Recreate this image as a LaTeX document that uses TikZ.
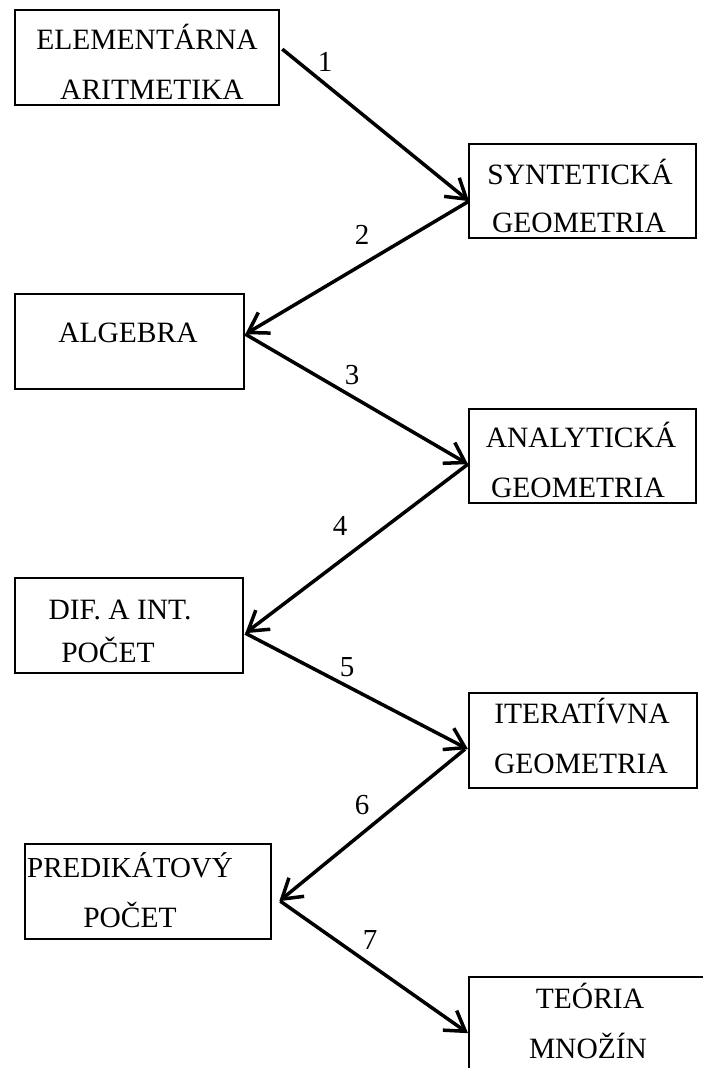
\documentclass[tikz,border=0pt]{standalone}
\usepackage{fontspec}
\setmainfont{Liberation Serif}
\usetikzlibrary{arrows.meta}
\begin{document}
\begin{tikzpicture}[x=1pt,y=-1pt,
  box/.style={draw,line width=2.3pt,rectangle,inner sep=0pt,anchor=north west},
  txt/.style={anchor=base,inner sep=0pt,font=\fontsize{29.5}{35}\selectfont},
  num/.style={anchor=center,inner sep=0pt,font=\fontsize{29}{35}\selectfont},
  arr/.style={line width=3.5pt,-{Straight Barb[length=19pt,width=24pt,line width=3.5pt]}}]
\useasboundingbox (0,0) rectangle (702,1068);
\fill[white] (0,0) rectangle (702,1068);
% boxes
\node[box,minimum width=264pt,minimum height=95pt] (b1) at (14,9) {};
\node[box,minimum width=227pt,minimum height=94pt] (b2) at (468,143) {};
\node[box,minimum width=229pt,minimum height=95pt] (b3) at (14,293) {};
\node[box,minimum width=227pt,minimum height=94pt] (b4) at (468,408) {};
\node[box,minimum width=228pt,minimum height=95pt] (b5) at (14,577) {};
\node[box,minimum width=228pt,minimum height=95pt] (b6) at (468,692) {};
\node[box,minimum width=246pt,minimum height=95pt] (b7) at (24,843) {};
\node[box,minimum width=244pt,minimum height=95pt] (b8) at (468,976) {};
% texts
\node[txt] (t1a) at (147,49) {ELEMENTÁRNA};
\node[txt] (t1b) at (152,99) {ARITMETIKA};
\node[txt] (t2a) at (580,184) {SYNTETICKÁ};
\node[txt] (t2b) at (579,232) {GEOMETRIA};
\node[txt] (t3) at (128,342) {ALGEBRA};
\node[txt] (t4a) at (581,447) {ANALYTICKÁ};
\node[txt] (t4b) at (578,497) {GEOMETRIA};
\node[txt] (t5a) at (120,619) {DIF. A INT.};
\node[txt] (t5b) at (108,662) {POČET};
\node[txt] (t6a) at (582,723) {ITERATÍVNA};
\node[txt] (t6b) at (581,773) {GEOMETRIA};
\node[txt,font=\fontsize{29}{35}\selectfont] (t7a) at (130,877) {PREDIKÁTOVÝ};
\node[txt] (t7b) at (130,927) {POČET};
\node[txt] (t8a) at (590,1008) {TEÓRIA};
\node[txt] (t8b) at (588,1058) {MNOŽÍN};
% arrows
\draw[arr] ([xshift=2pt,yshift=8.5pt]b1.east) -- ([xshift=1pt,yshift=-10pt]b2.west);
\draw[arr] ([xshift=1pt,yshift=-10pt]b2.west) -- ([yshift=7.5pt]b3.east);
\draw[arr] ([yshift=7.5pt]b3.east) -- ([yshift=-8pt]b4.west);
\draw[arr] ([yshift=-8pt]b4.west) -- ([xshift=1pt,yshift=-7.5pt]b5.east);
\draw[arr] ([xshift=1pt,yshift=-7.5pt]b5.east) -- ([yshift=-8.5pt]b6.west);
\draw[arr] ([xshift=-3pt,yshift=-8.5pt]b6.west) -- ([xshift=7pt,yshift=-9.5pt]b7.east);
\draw[arr] ([xshift=8pt,yshift=-9.5pt]b7.east) -- ([yshift=-8.5pt]b8.west);
% labels
\node[num] (n1) at (325,62) {1};
\node[num] (n2) at (362,235) {2};
\node[num] (n3) at (352,375) {3};
\node[num] (n4) at (340,526) {4};
\node[num] (n5) at (347,667) {5};
\node[num] (n6) at (362,805) {6};
\node[num] (n7) at (370,940) {7};
\end{tikzpicture}
\end{document}
